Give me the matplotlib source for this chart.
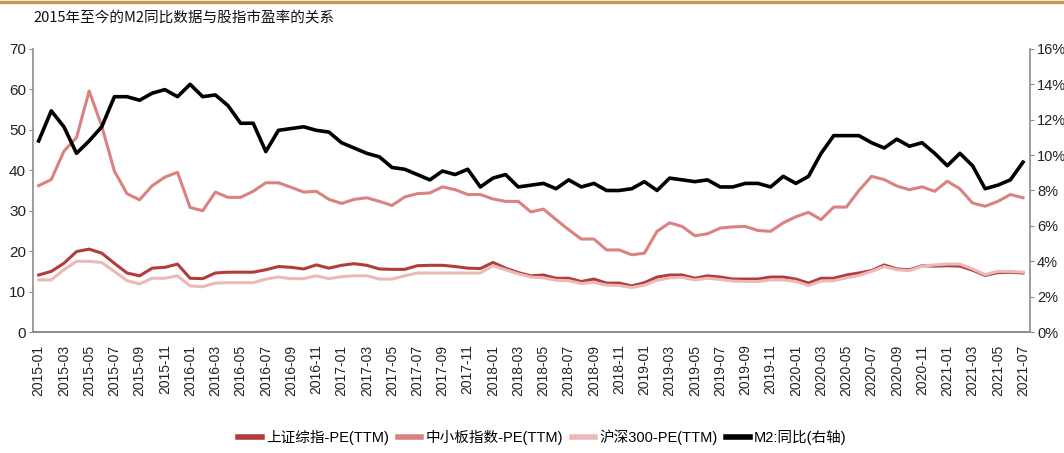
import numpy as np
import pandas as pd
import matplotlib
matplotlib.use("Agg")
import matplotlib.pyplot as plt
from matplotlib.lines import Line2D
from matplotlib.ticker import FuncFormatter

plt.rcParams['font.family'] = ['Liberation Sans', 'Noto Sans CJK SC', 'DejaVu Sans']

# monthly, 2015-01 .. 2021-07
months = pd.date_range("2015-01", "2021-07", freq="MS").strftime("%Y-%m").tolist()

sh_pe = [14.1, 15.0, 17.0, 19.9, 20.5, 19.5, 17.0, 14.6, 13.9, 15.8,
         16.0, 16.8, 13.3, 13.2, 14.6, 14.8, 14.8, 14.8, 15.4, 16.2,
         16.0, 15.6, 16.6, 15.8, 16.5, 16.9, 16.5, 15.6, 15.5, 15.5,
         16.4, 16.5, 16.5, 16.2, 15.8, 15.7, 17.2, 15.8, 14.7, 13.9,
         14.1, 13.3, 13.3, 12.5, 13.1, 12.1, 12.1, 11.4, 12.2, 13.6,
         14.1, 14.1, 13.3, 13.9, 13.6, 13.1, 13.1, 13.1, 13.6, 13.6,
         13.1, 12.1, 13.3, 13.3, 14.1, 14.6, 15.2, 16.6, 15.6, 15.4,
         16.4, 16.3, 16.4, 16.3, 15.3, 14.0, 14.7, 14.8, 14.6]

sme_pe = [36.2, 37.7, 44.7, 48.1, 59.6, 50.9, 39.8, 34.2, 32.7, 36.2,
          38.3, 39.5, 30.8, 30.0, 34.6, 33.3, 33.3, 34.8, 36.9, 36.9,
          35.8, 34.6, 34.8, 32.8, 31.8, 32.8, 33.2, 32.3, 31.3, 33.4,
          34.2, 34.4, 35.9, 35.2, 34.0, 34.0, 32.9, 32.3, 32.3, 29.7,
          30.4, 27.8, 25.3, 23.0, 23.0, 20.3, 20.3, 19.1, 19.5, 24.9,
          27.0, 26.1, 23.8, 24.3, 25.7, 26.0, 26.1, 25.1, 24.9, 27.0,
          28.5, 29.6, 27.8, 30.9, 30.9, 35.0, 38.5, 37.7, 36.1, 35.2,
          35.9, 34.8, 37.3, 35.4, 31.9, 31.1, 32.3, 34.0, 33.2]

hs300_pe = [12.9, 12.9, 15.4, 17.5, 17.5, 17.2, 15.0, 12.7, 11.9, 13.3,
            13.3, 13.9, 11.4, 11.2, 12.1, 12.2, 12.2, 12.2, 13.1, 13.6,
            13.2, 13.2, 13.9, 13.2, 13.7, 13.9, 13.9, 13.1, 13.1, 13.9,
            14.6, 14.6, 14.6, 14.6, 14.6, 14.6, 16.4, 15.4, 14.4, 13.6,
            13.4, 12.8, 12.7, 12.0, 12.3, 11.6, 11.5, 11.0, 11.6, 12.8,
            13.4, 13.5, 12.9, 13.3, 13.0, 12.6, 12.5, 12.5, 12.9, 12.9,
            12.5, 11.5, 12.6, 12.7, 13.4, 14.0, 15.0, 16.2, 15.4, 15.2,
            16.3, 16.6, 16.8, 16.8, 15.6, 14.2, 15.0, 15.0, 14.8]

m2_yoy = [10.8, 12.5, 11.6, 10.1, 10.8, 11.6, 13.3, 13.3, 13.1, 13.5,
          13.7, 13.3, 14.0, 13.3, 13.4, 12.8, 11.8, 11.8, 10.2, 11.4,
          11.5, 11.6, 11.4, 11.3, 10.7, 10.4, 10.1, 9.9, 9.3, 9.2,
          8.9, 8.6, 9.1, 8.9, 9.2, 8.2, 8.7, 8.9, 8.2, 8.3,
          8.4, 8.1, 8.6, 8.2, 8.4, 8.0, 8.0, 8.1, 8.5, 8.0,
          8.7, 8.6, 8.5, 8.6, 8.2, 8.2, 8.4, 8.4, 8.2, 8.8,
          8.4, 8.8, 10.1, 11.1, 11.1, 11.1, 10.7, 10.4, 10.9, 10.5,
          10.7, 10.1, 9.4, 10.1, 9.4, 8.1, 8.3, 8.6, 9.6]

labels = ["上证综指-PE(TTM)", "中小板指数-PE(TTM)", "沪深300-PE(TTM)", "M2:同比(右轴)"]
colors = ["#B23B3B", "#D98280", "#EBB9B7", "#000000"]

fig = plt.figure(figsize=(10.64, 4.53), dpi=100)
ax = fig.add_axes([0.031, 0.267, 0.937, 0.625])
ax2 = ax.twinx()

x = np.arange(len(months))
ax.plot(x, sh_pe, color=colors[0], lw=2.2)
ax.plot(x, sme_pe, color=colors[1], lw=2.2)
ax.plot(x, hs300_pe, color=colors[2], lw=2.2)
ax2.plot(x, m2_yoy, color=colors[3], lw=2.6)

ax.set_xlim(-0.45, len(months) - 0.45)
ax.set_ylim(0, 70)
ax.set_yticks(range(0, 71, 10))
ax2.set_ylim(0, 16)
ax2.set_yticks(range(0, 17, 2))
ax2.yaxis.set_major_formatter(FuncFormatter(lambda v, p: f"{int(v)}%"))

ax.set_xticks(x[::2])
ax.set_xticklabels(months[::2], rotation=90, fontsize=10)

grey = "#8C8C8C"
for a in (ax, ax2):
    a.spines["top"].set_visible(False)
    for s in ("left", "right", "bottom"):
        a.spines[s].set_color(grey)
        a.spines[s].set_linewidth(1.2)
    a.tick_params(axis="y", colors=grey, labelcolor="#222222", labelsize=11, length=3, pad=2)
ax.spines["right"].set_visible(False)
ax2.spines["left"].set_visible(False)
ax2.tick_params(axis="y", labelsize=10.5)
ax.tick_params(axis="x", colors=grey, labelcolor="#222222", length=0, pad=9)

handles = [Line2D([], [], color=c, lw=4) for c in colors]
fig.legend(handles, labels, loc="center", bbox_to_anchor=(0.51, 0.035), ncol=4,
           frameon=False, fontsize=10.5, handlelength=1.6, handletextpad=0.3,
           columnspacing=0.6)

fig.text(0.031, 0.962, "2015年至今的M2同比数据与股指市盈率的关系", fontsize=10.5,
         family=["Noto Sans CJK SC", "DejaVu Sans"], weight="medium",
         va="center", color="#111111")
fig.add_artist(Line2D([0, 1], [0.995, 0.995], transform=fig.transFigure,
                      color="#C49A52", lw=2.5))

fig.savefig("out.png", dpi=100)
